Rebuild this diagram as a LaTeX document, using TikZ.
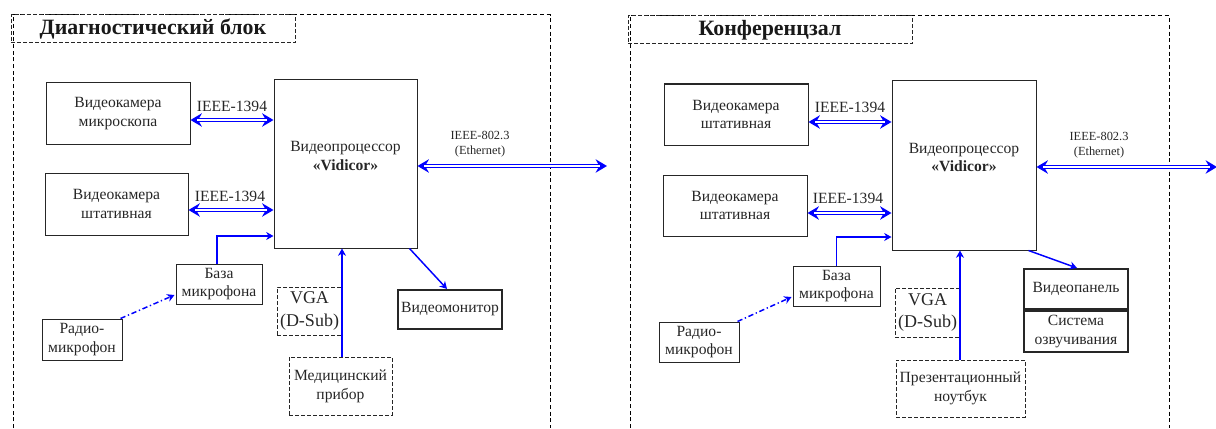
\documentclass[tikz,border=0pt]{standalone}
\usepackage{fontspec}
\setmainfont{Liberation Serif}
\usetikzlibrary{arrows.meta,calc}
\tikzset{
 wh/.style 2 args={minimum width=#1*0.75pt, minimum height=#2*0.75pt},
 box/.style={draw=black!85, line width=0.75pt, inner sep=1pt, align=center, font=\fontsize{11.7}{14}\selectfont, text=black!85},
 tbox/.style={box, line width=1.5pt},
 dbox/.style={box, dash pattern=on 3pt off 1.5pt},
 vga/.style={dbox, font=\fontsize{13.5}{17}\selectfont},
 titlebox/.style={draw=black!85, line width=0.75pt, dash pattern=on 3pt off 1.5pt, inner sep=0pt, font=\fontsize{16.4}{19}\selectfont\bfseries, text=black!90},
 frame/.style={draw=black, line width=0.75pt, dash pattern=on 3pt off 2pt},
 dbl/.style={draw=blue, line width=2.8pt, {Stealth[length=8.5pt,width=10pt]}-{Stealth[length=8.5pt,width=10pt]},
   postaction={draw=white, line width=1.1pt, shorten <=5pt, shorten >=5pt, arrows=-}},
 arr/.style={draw=blue, line width=1.1pt, -{Stealth[length=5.5pt,width=6pt]}},
 ddarr/.style={draw=blue, line width=1.1pt, dash pattern=on 4pt off 2pt on 1pt off 2pt, -{Stealth[length=5.5pt,width=6pt]}},
 lbl/.style={font=\fontsize{11.7}{14}\selectfont, text=black!85, inner sep=0pt, align=center},
 elbl/.style={font=\fontsize{9.3}{11.2}\selectfont, text=black!85, align=center, inner sep=0pt},
}
\begin{document}
\begin{tikzpicture}[x=0.75pt,y=-0.75pt]
\useasboundingbox (0,0) rectangle (1216,428);
% ---------- left panel ----------
\draw[frame] (13,428) -- (13,15) -- (550,15) -- (550,428);
\node[titlebox, wh={284}{28}] (t1) at (153,29) {Диагностический блок};
\node[box, wh={144}{61}] (c1a) at (118,113.5) {Видеокамера\\микроскопа};
\node[box, wh={143}{62}] (c1b) at (116.5,204) {Видеокамера\\штативная};
\node[box, wh={143}{168}] (p1) at (345.5,164) {};
\node[lbl] (p1t) at (345.5,156) {Видеопроцессор\\\textbf{«Vidicor»}};
\node[box, wh={86}{40}] (b1) at (219,284) {База\\микрофона};
\node[box, wh={80}{41}] (r1) at (82,339.5) {Радио-\\микрофон};
\node[vga, wh={65}{48}] (v1) at (309.5,311) {VGA\\(D-Sub)};
\node[dbox, wh={103}{58}] (m1) at (340.5,386) {Медицинский\\прибор};
\node[tbox, wh={104}{39}] (mon1) at (450,309.5) {Видеомонитор};
\node[lbl] (l1a) at (232,106) {IEEE-1394};
\node[lbl] (l1b) at (230,196) {IEEE-1394};
\node[elbl] (e1) at (480,144.5) {IEEE-802.3\\(Ethernet)};
\coordinate (x1) at (607,166);
\draw[dbl] ($(c1a.east)+(0,6.5)$) -- ($(p1.west)+(0,-44)$);
\draw[dbl] ($(c1b.east)+(0,6)$) -- ($(p1.west)+(0,46)$);
\draw[arr] ($(b1.north)+(-2,0)$) |- ($(p1.west)+(0,72)$);
\draw[ddarr] ($(r1.north east)+(-2,0)$) -- ($(b1.west)+(-1,11)$);
\draw[arr] ($(m1.north)+(1.5,0)$) -- ($(p1.south)+(-3.5,0)$);
\draw[arr] ($(p1.south east)+(-8,0)$) -- ($(mon1.north)+(-3,0)$);
\draw[dbl] ($(p1.east)+(0,2)$) -- (x1);
% ---------- right panel ----------
\draw[frame] (630,428) -- (630,16) -- (1169,16) -- (1169,428);
\node[titlebox, wh={284}{28}] (t2) at (770,30) {Конференцзал};
\node[box, wh={144}{61}] (c2a) at (736,114.5) {Видеокамера\\штативная};
\node[box, wh={144}{61}] (c2b) at (735,205.5) {Видеокамера\\штативная};
\node[box, wh={144}{169}] (p2) at (964,165.5) {};
\node[lbl] (p2t) at (964,157.5) {Видеопроцессор\\\textbf{«Vidicor»}};
\node[box, wh={87}{40}] (b2) at (836.5,286) {База\\микрофона};
\node[box, wh={80}{40}] (r2) at (699,342) {Радио-\\микрофон};
\node[vga, wh={65}{49}] (v2) at (927.5,312.5) {VGA\\(D-Sub)};
\node[dbox, wh={129}{57}] (m2) at (960.5,388.5) {Презентационный\\ноутбук};
\node[tbox, wh={104}{40}] (vp2) at (1076,289) {Видеопанель};
\node[tbox, wh={104}{41}, anchor=north] (s2) at (vp2.south) {Система\\озвучивания};
\node[lbl] (l2a) at (850,107) {IEEE-1394};
\node[lbl] (l2b) at (848,198) {IEEE-1394};
\node[elbl] (e2) at (1099,145.5) {IEEE-802.3\\(Ethernet)};
\coordinate (x2) at (1217,167);
\draw[dbl] ($(c2a.east)+(0,7.5)$) -- ($(p2.west)+(0,-43.5)$);
\draw[dbl] ($(c2b.east)+(0,7.5)$) -- ($(p2.west)+(0,47.5)$);
\draw[arr] (b2.north) |- ($(p2.west)+(0,71.5)$);
\draw[ddarr] ($(r2.north east)+(-2,0)$) -- ($(b2.west)+(-1,11)$);
\draw[arr] ($(m2.north)+(-0.5,0)$) -- ($(p2.south)+(-4,0)$);
\draw[arr] ($(p2.south east)+(-8,0)$) -- ($(vp2.north)+(1,0)$);
\draw[dbl] ($(p2.east)+(0,1.5)$) -- (x2);
\end{tikzpicture}
\end{document}
